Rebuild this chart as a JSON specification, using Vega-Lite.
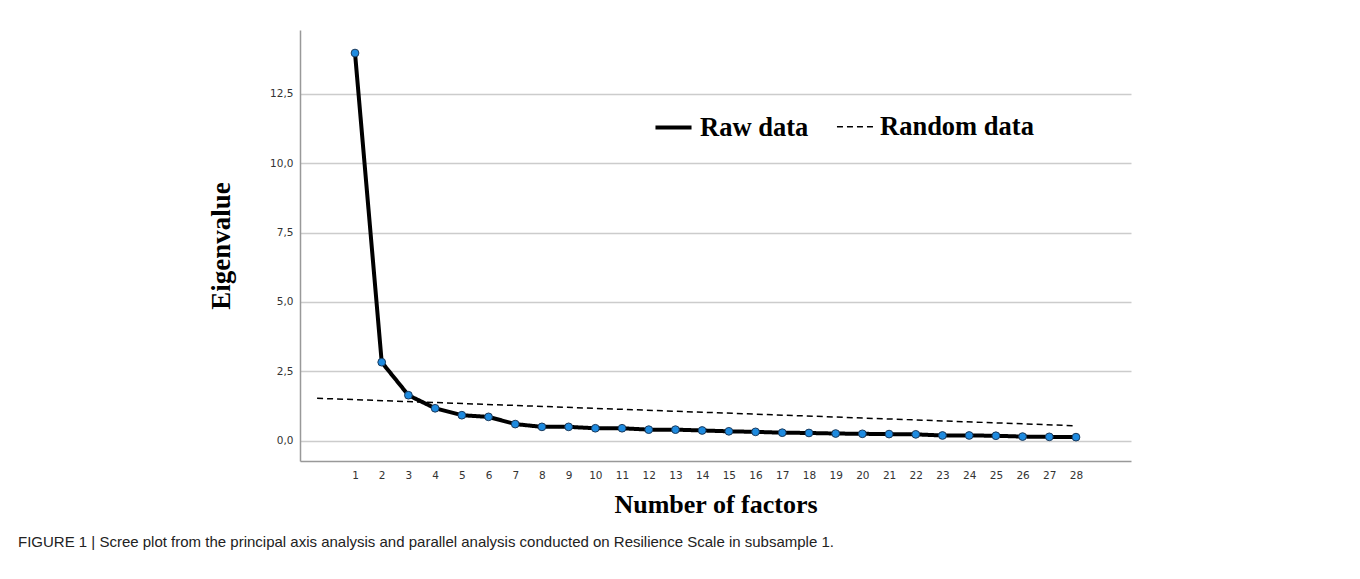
{
  "$schema": "https://vega.github.io/schema/vega-lite/v6.json",
  "width": 831,
  "height": 431,
  "autosize": {"type": "none"},
  "padding": {"left": 300, "top": 30, "right": 229, "bottom": 118},
  "background": "white",
  "config": {"view": {"stroke": null}, "font": "Liberation Sans"},
  "title": {
    "text": "FIGURE 1 | Scree plot from the principal axis analysis and parallel analysis conducted on Resilience Scale in subsample 1.",
    "orient": "bottom",
    "anchor": "start",
    "frame": "group",
    "dx": -282,
    "offset": 17,
    "fontSize": 15,
    "font": "Liberation Sans",
    "fontWeight": "normal",
    "color": "#222"
  },
  "datasets": {
    "raw": [
      {"factor": 1, "eigenvalue": 13.97, "series": "Raw data"},
      {"factor": 2, "eigenvalue": 2.83, "series": "Raw data"},
      {"factor": 3, "eigenvalue": 1.64, "series": "Raw data"},
      {"factor": 4, "eigenvalue": 1.17, "series": "Raw data"},
      {"factor": 5, "eigenvalue": 0.92, "series": "Raw data"},
      {"factor": 6, "eigenvalue": 0.86, "series": "Raw data"},
      {"factor": 7, "eigenvalue": 0.6, "series": "Raw data"},
      {"factor": 8, "eigenvalue": 0.5, "series": "Raw data"},
      {"factor": 9, "eigenvalue": 0.5, "series": "Raw data"},
      {"factor": 10, "eigenvalue": 0.45, "series": "Raw data"},
      {"factor": 11, "eigenvalue": 0.45, "series": "Raw data"},
      {"factor": 12, "eigenvalue": 0.4, "series": "Raw data"},
      {"factor": 13, "eigenvalue": 0.4, "series": "Raw data"},
      {"factor": 14, "eigenvalue": 0.37, "series": "Raw data"},
      {"factor": 15, "eigenvalue": 0.34, "series": "Raw data"},
      {"factor": 16, "eigenvalue": 0.32, "series": "Raw data"},
      {"factor": 17, "eigenvalue": 0.29, "series": "Raw data"},
      {"factor": 18, "eigenvalue": 0.28, "series": "Raw data"},
      {"factor": 19, "eigenvalue": 0.26, "series": "Raw data"},
      {"factor": 20, "eigenvalue": 0.25, "series": "Raw data"},
      {"factor": 21, "eigenvalue": 0.24, "series": "Raw data"},
      {"factor": 22, "eigenvalue": 0.23, "series": "Raw data"},
      {"factor": 23, "eigenvalue": 0.19, "series": "Raw data"},
      {"factor": 24, "eigenvalue": 0.19, "series": "Raw data"},
      {"factor": 25, "eigenvalue": 0.18, "series": "Raw data"},
      {"factor": 26, "eigenvalue": 0.15, "series": "Raw data"},
      {"factor": 27, "eigenvalue": 0.14, "series": "Raw data"},
      {"factor": 28, "eigenvalue": 0.13, "series": "Raw data"}
    ],
    "random": [
      {"factor": -0.42, "eigenvalue": 1.53, "series": "Random data"},
      {"factor": 28, "eigenvalue": 0.54, "series": "Random data"}
    ]
  },
  "encoding": {
    "x": {
      "field": "factor",
      "type": "quantitative",
      "scale": {"domain": [-1.06, 30.06], "nice": false, "zero": false},
      "axis": {
        "values": [1,2,3,4,5,6,7,8,9,10,11,12,13,14,15,16,17,18,19,20,21,22,23,24,25,26,27,28],
        "format": "d",
        "grid": false,
        "ticks": false,
        "domainColor": "#999",
        "domainWidth": 1.5,
        "labelFont": "DejaVu Sans",
        "labelFontSize": 10.5,
        "labelColor": "#333",
        "labelPadding": 9,
        "labelFlush": false,
        "title": "Number of factors",
        "titleFont": "Liberation Serif",
        "titleFontSize": 26,
        "titleFontWeight": "bold",
        "titleColor": "#000",
        "titlePadding": 11
      }
    },
    "y": {
      "field": "eigenvalue",
      "type": "quantitative",
      "scale": {"domain": [-0.73, 14.8], "nice": false, "zero": false},
      "axis": {
        "values": [0, 2.5, 5, 7.5, 10, 12.5],
        "labelExpr": "replace(format(datum.value,'.1f'),'.',',')",
        "ticks": false,
        "domainColor": "#999",
        "domainWidth": 1.5,
        "gridColor": "#ccc",
        "gridWidth": 1.5,
        "labelFont": "DejaVu Sans",
        "labelFontSize": 10.5,
        "labelColor": "#333",
        "labelPadding": 7,
        "title": "Eigenvalue",
        "titleFont": "Liberation Serif",
        "titleFontSize": 27,
        "titleFontWeight": "bold",
        "titleColor": "#000",
        "titlePadding": 34
      }
    }
  },
  "layer": [
    {
      "data": {"name": "random"},
      "mark": {"type": "line"},
      "encoding": {
        "color": {"field": "series", "type": "nominal", "scale": {"domain": ["Raw data", "Random data"], "range": ["#000000", "#000000"]},
          "legend": {"orient": "none", "legendX": 353, "legendY": 77, "direction": "horizontal", "title": null, "symbolType": "stroke", "symbolSize": 1300, "labelFont": "Liberation Serif", "labelFontWeight": "bold", "labelFontSize": 26.5, "labelColor": "#000", "columnPadding": 24, "labelOffset": 6, "labelLimit": 400}},
        "strokeDash": {"field": "series", "type": "nominal", "scale": {"domain": ["Raw data", "Random data"], "range": [[1, 0], [6, 4]]},
          "legend": {"orient": "none", "legendX": 353, "legendY": 77, "direction": "horizontal", "title": null, "symbolType": "stroke", "symbolSize": 1300, "labelFont": "Liberation Serif", "labelFontWeight": "bold", "labelFontSize": 26.5, "labelColor": "#000", "columnPadding": 24, "labelOffset": 6, "labelLimit": 400}},
        "strokeWidth": {"field": "series", "type": "nominal", "scale": {"domain": ["Raw data", "Random data"], "range": [4, 1.5]},
          "legend": {"orient": "none", "legendX": 353, "legendY": 77, "direction": "horizontal", "title": null, "symbolType": "stroke", "symbolSize": 1300, "labelFont": "Liberation Serif", "labelFontWeight": "bold", "labelFontSize": 26.5, "labelColor": "#000", "columnPadding": 24, "labelOffset": 6, "labelLimit": 400}}
      }
    },
    {
      "data": {"name": "raw"},
      "mark": {"type": "line"},
      "encoding": {
        "color": {"field": "series", "type": "nominal"},
        "strokeDash": {"field": "series", "type": "nominal"},
        "strokeWidth": {"field": "series", "type": "nominal"}
      }
    },
    {
      "data": {"name": "raw"},
      "mark": {"type": "point", "filled": true, "fill": "#1e8be0", "stroke": "#1b3a5c", "strokeWidth": 1, "size": 60, "opacity": 1}
    }
  ]
}
